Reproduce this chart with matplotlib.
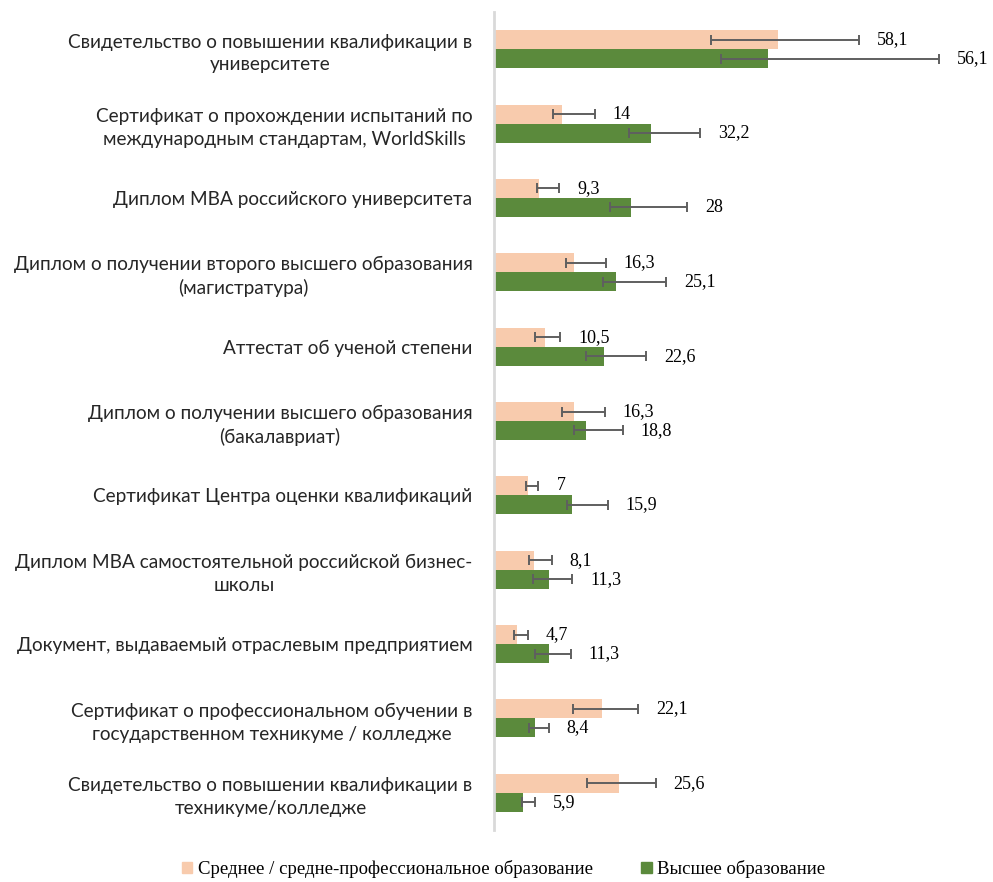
import matplotlib.pyplot as plt
import numpy as np
from matplotlib.patches import Patch

categories = [
    "Свидетельство о повышении квалификации в\nуниверситете",
    "Сертификат о прохождении испытаний по\nмеждународным стандартам, WorldSkills",
    "Диплом MBA российского университета",
    "Диплом о получении второго высшего образования\n(магистратура)",
    "Аттестат об ученой степени",
    "Диплом о получении высшего образования\n(бакалавриат)",
    "Сертификат Центра оценки квалификаций",
    "Диплом MBA самостоятельной российской бизнес-\nшколы",
    "Документ, выдаваемый отраслевым предприятием",
    "Сертификат о профессиональном обучении в\nгосударственном техникуме / колледже",
    "Свидетельство о повышении квалификации в\nтехникуме/колледже",
]

secondary = [58.1, 14, 9.3, 16.3, 10.5, 16.3, 7, 8.1, 4.7, 22.1, 25.6]
higher = [56.1, 32.2, 28, 25.1, 22.6, 18.8, 15.9, 11.3, 11.3, 8.4, 5.9]

# error bar ends (low, high)
secondary_lo = [44.4, 12.0, 8.8, 14.7, 8.5, 13.9, 6.5, 7.1, 4.2, 16.2, 19.1]
secondary_hi = [74.7, 20.6, 13.4, 22.9, 13.6, 22.7, 9.1, 11.8, 6.9, 29.5, 33.1]
higher_lo = [46.6, 27.6, 23.8, 22.3, 18.8, 16.4, 14.9, 7.9, 8.5, 7.1, 5.7]
higher_hi = [91.1, 42.3, 39.6, 35.2, 31.1, 26.4, 23.3, 16.0, 15.7, 11.2, 8.3]

legend_labels = ["Среднее / средне-профессиональное образование", "Высшее образование"]

pink = "#F8CBAD"
green = "#5B8A3C"
err_color = "#5F5F5F"

fig = plt.figure(figsize=(9.93, 8.82), dpi=100)
ax = fig.add_axes([494 / 993, 52 / 882, 488 / 993, 818 / 882])

y = np.arange(len(categories))
h = 0.255

for vals, lo, hi, color, off in [(secondary, secondary_lo, secondary_hi, pink, -h / 2),
                                 (higher, higher_lo, higher_hi, green, h / 2)]:
    vals = np.array(vals)
    lo = np.array(lo)
    hi = np.array(hi)
    ax.barh(y + off, vals, height=h, color=color)
    ax.errorbar(vals, y + off, xerr=[vals - lo, hi - vals], fmt="none",
                ecolor=err_color, elinewidth=1.4, capsize=3.5, capthick=1.4)
    for yi, v, e in zip(y + off, vals, hi):
        ax.annotate(f"{v:g}".replace(".", ","), xy=(e, yi), xytext=(13, 0),
                    textcoords="offset points", va="center", ha="left",
                    fontsize=13, family="Liberation Serif")

ax.set_xlim(0, 100)
ax.set_ylim(len(categories) - 0.5, -0.5)
ax.set_yticks(y)
ax.set_yticklabels(categories, fontsize=13.7, family="Lato", color="#262626",
                   multialignment="center", linespacing=1.4)
ax.tick_params(axis="y", length=0, pad=15.5)
ax.set_xticks([])
for s in ["top", "right", "bottom"]:
    ax.spines[s].set_visible(False)
ax.spines["left"].set_color("#D9D9D9")
ax.spines["left"].set_linewidth(2)

handles = [Patch(color=pink), Patch(color=green)]
fig.legend(handles, legend_labels, loc="lower center", bbox_to_anchor=(0.507, -0.015),
           ncol=2, frameon=False, handlelength=0.55, handleheight=0.55,
           handletextpad=0.3, columnspacing=2.6,
           prop={"family": "Liberation Serif", "size": 13.5})

fig.savefig("out.png", dpi=100)
